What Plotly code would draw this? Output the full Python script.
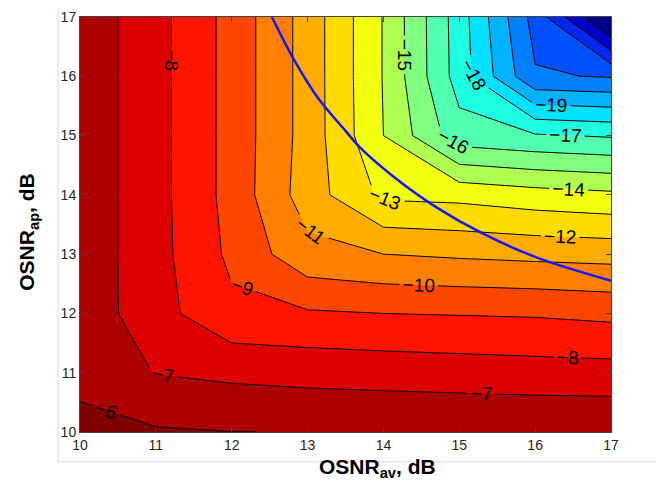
import plotly.graph_objects as go

# grid (dB)
osnr_av = [10, 11, 12, 13, 14, 15, 16, 17]
osnr_ap = [10, 11, 12, 13, 14, 15, 16, 17]

# contour values, one row per OSNR_ap value (10 ... 17), columns OSNR_av 10 ... 17
z_ap10 = [-5.58, -5.90, -5.99, -6.02, -6.03, -6.04, -6.05, -6.05]
z_ap11 = [-6.40, -7.03, -7.22, -7.34, -7.42, -7.50, -7.58, -7.63]
z_ap12 = [-6.35, -7.63, -8.78, -8.89, -9.00, -9.05, -9.10, -9.24]
z_ap13 = [-6.35, -7.65, -9.21, -10.70, -11.00, -11.15, -11.27, -11.36]
z_ap14 = [-6.35, -7.65, -9.35, -11.50, -13.20, -13.30, -13.60, -13.80]
z_ap15 = [-6.35, -7.65, -9.35, -11.40, -14.00, -16.60, -16.90, -17.10]
z_ap16 = [-6.35, -7.65, -9.35, -11.40, -14.05, -17.45, -20.90, -21.07]
z_ap17 = [-6.35, -7.65, -9.35, -11.40, -14.05, -17.50, -21.40, -25.50]

# blue curve
curve_av = [12.53, 12.79, 13.14, 13.50, 13.69, 14.13, 14.71, 15.32, 16.07, 17.00]
curve_ap = [17.00, 16.35, 15.63, 15.08, 14.80, 14.31, 13.78, 13.34, 12.92, 12.55]

tick_vals = [10, 11, 12, 13, 14, 15, 16, 17]

level_start, level_end, level_step = -24, -6, 1

# band colours from lowest (< -24) to highest (> -6)
band_colors = [
    "rgb(0,0,135)", "rgb(0,0,200)", "rgb(0,40,240)", "rgb(0,80,255)",
    "rgb(0,128,255)", "rgb(0,178,255)", "rgb(0,226,255)", "rgb(30,255,225)",
    "rgb(80,255,175)", "rgb(128,255,128)", "rgb(175,255,80)", "rgb(242,255,15)",
    "rgb(255,220,0)", "rgb(255,172,0)", "rgb(255,128,0)", "rgb(255,70,0)",
    "rgb(255,20,0)", "rgb(221,0,0)", "rgb(172,0,0)", "rgb(128,0,0)",
]

z = [z_ap10, z_ap11, z_ap12, z_ap13, z_ap14, z_ap15, z_ap16, z_ap17]
n = len(band_colors) - 1
colorscale = [[k / n, c] for k, c in enumerate(band_colors)]

font_family = "Liberation Sans, Arial, sans-serif"

fig = go.Figure()
fig.add_trace(go.Contour(
    x=osnr_av, y=osnr_ap, z=z,
    contours=dict(start=level_start, end=level_end, size=level_step,
                  coloring="fill", showlabels=True,
                  labelfont=dict(size=19, color="black", family=font_family)),
    line=dict(color="black", width=1, smoothing=0),
    colorscale=colorscale, showscale=False, hoverinfo="skip",
))
fig.add_trace(go.Scatter(
    x=curve_av, y=curve_ap, mode="lines",
    line=dict(color="rgb(20,20,255)", width=2.5, shape="spline", smoothing=0.8),
    hoverinfo="skip", showlegend=False,
))

axis_common = dict(
    range=[10, 17], tickvals=tick_vals, ticks="inside", ticklen=5,
    tickcolor="#444", showline=True, linecolor="#444", linewidth=1,
    mirror="allticks", showgrid=False, zeroline=False, automargin=False,
    tickfont=dict(size=14, color="#262626", family=font_family),
)

# the page adds an 8 px body margin, so the figure is 8 px smaller and shifted
fig.update_layout(
    width=656, height=488, autosize=False,
    margin=dict(l=72, r=53, t=9, b=64),
    paper_bgcolor="white", plot_bgcolor="white",
    showlegend=False,
    xaxis=axis_common,
    yaxis=axis_common,
    annotations=[
        dict(text="<b>OSNR<sub>av</sub>, dB</b>", xref="paper", yref="paper",
             x=0.561, y=-0.087, xanchor="center", yanchor="middle",
             showarrow=False, font=dict(size=21, color="black", family=font_family)),
        dict(text="<b>OSNR<sub>ap</sub>, dB</b>", xref="paper", yref="paper",
             x=-0.098, y=0.4825, xanchor="center", yanchor="middle", textangle=-90,
             showarrow=False, font=dict(size=21, color="black", family=font_family)),
    ],
    shapes=[
        dict(type="line", xref="paper", yref="paper",
             x0=-0.0414, x1=-0.0414, y0=-0.072, y1=1.05,
             line=dict(color="#d9d9d9", width=1)),
        dict(type="line", xref="paper", yref="paper",
             x0=-0.0414, x1=1.10, y0=-0.072, y1=-0.072,
             line=dict(color="#d9d9d9", width=1)),
    ],
)

fig.write_html("out.html")
